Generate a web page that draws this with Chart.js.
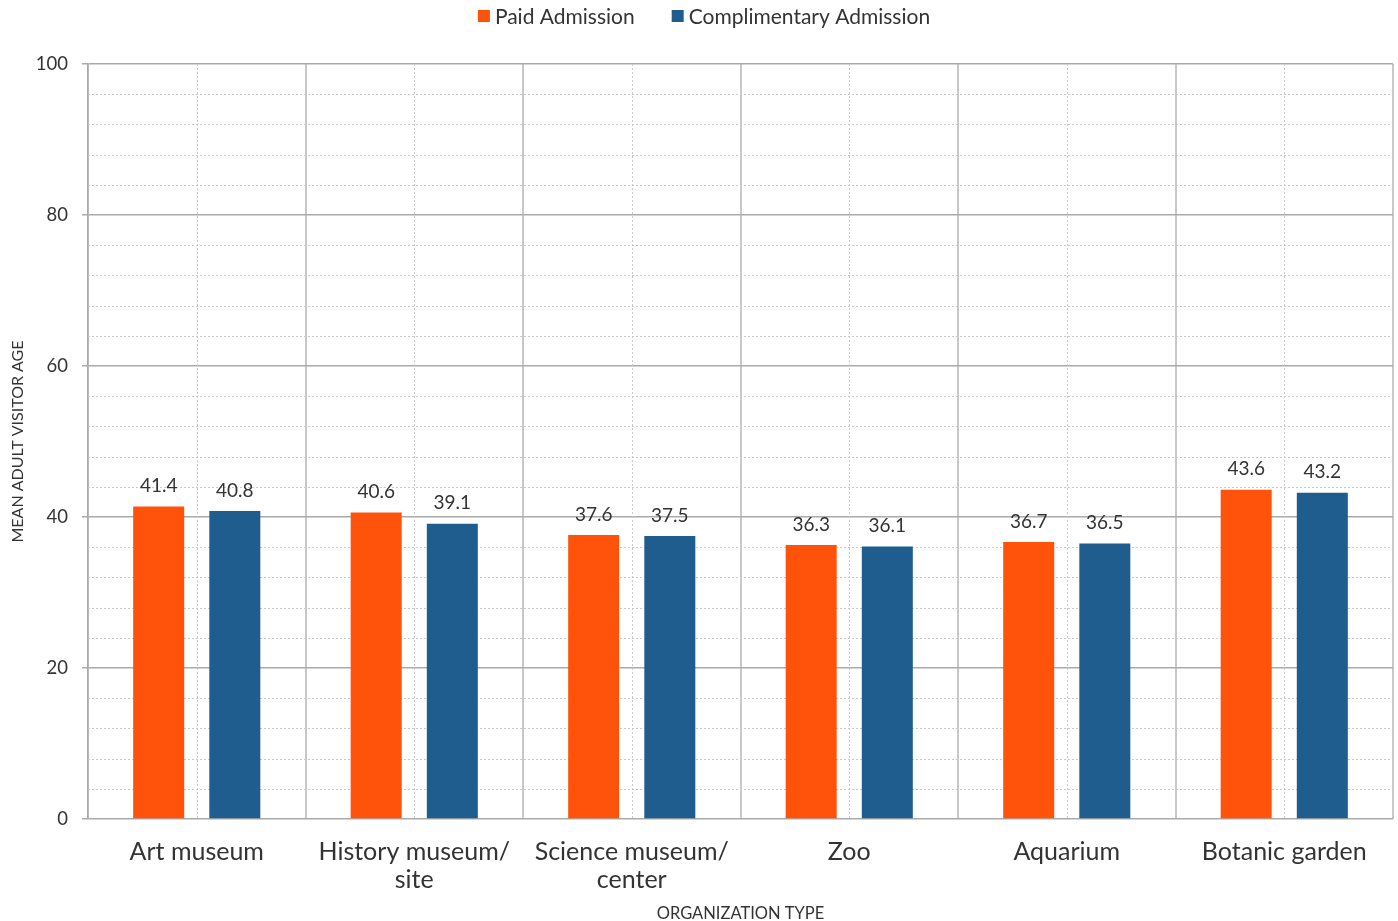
<!DOCTYPE html>
<html>
<head>
<meta charset="utf-8">
<script src="https://cdn.jsdelivr.net/npm/chart.js@4/dist/chart.umd.min.js"></script>
<style>
  html, body { margin: 0; padding: 0; background: #ffffff; }
  #wrap { width: 1398px; height: 921px; }
</style>
</head>
<body>
<div id="wrap"><canvas id="c" width="1398" height="921"></canvas></div>
<script>
// Mean adult visitor age by organization type
const categories = [
  ["Art museum"],
  ["History museum/", "site"],
  ["Science museum/", "center"],
  ["Zoo"],
  ["Aquarium"],
  ["Botanic garden"]
];
const paidAdmission = [41.4, 40.6, 37.6, 36.3, 36.7, 43.6];
const complimentaryAdmission = [40.8, 39.1, 37.5, 36.1, 36.5, 43.2];
const yTickValues = [0, 20, 40, 60, 80, 100];
const minorStep = 4;

const FONT = "Lato, 'Open Sans', sans-serif";
const TEXT = "#333333";

// dotted minor grid: horizontal every minorStep, vertical through each category centre
const minorGrid = {
  id: "minorGrid",
  beforeDatasetsDraw(chart) {
    const { ctx, chartArea: a, scales: { x, y } } = chart;
    ctx.save();
    ctx.strokeStyle = "#c9c9c9";
    ctx.lineWidth = 1;
    ctx.setLineDash([2, 2]);
    for (let v = y.min; v <= y.max; v += minorStep) {
      if (yTickValues.includes(v)) continue;
      const py = Math.round(y.getPixelForValue(v)) + 0.5;
      ctx.beginPath(); ctx.moveTo(a.left, py); ctx.lineTo(a.right, py); ctx.stroke();
    }
    categories.forEach((_, i) => {
      const px = Math.round(x.getPixelForValue(i)) + 0.5;
      ctx.beginPath(); ctx.moveTo(px, a.top); ctx.lineTo(px, a.bottom); ctx.stroke();
    });
    ctx.restore();
  }
};

// value printed above each bar
const barValues = {
  id: "barValues",
  afterDatasetsDraw(chart) {
    const { ctx } = chart;
    ctx.save();
    ctx.font = "19px " + FONT;
    ctx.fillStyle = TEXT;
    ctx.textAlign = "center";
    ctx.textBaseline = "bottom";
    chart.data.datasets.forEach((ds, di) => {
      chart.getDatasetMeta(di).data.forEach((bar, i) => {
        ctx.fillText(ds.data[i].toFixed(1), bar.x, bar.y - 11);
      });
    });
    ctx.restore();
  }
};

// compact legend row across the top, square swatch + dataset label
const topLegend = {
  id: "topLegend",
  afterDraw(chart) {
    const { ctx } = chart;
    const box = 12, boxGap = 5, itemGap = 37, centreX = 704, midY = 16;
    ctx.save();
    ctx.font = "21px " + FONT;
    ctx.textBaseline = "middle";
    ctx.textAlign = "left";
    const items = chart.data.datasets.map(ds => ({
      text: ds.label, color: ds.backgroundColor, w: ctx.measureText(ds.label).width
    }));
    const total = items.reduce((s, it) => s + box + boxGap + it.w, 0) + itemGap * (items.length - 1);
    let x = centreX - total / 2;
    items.forEach(it => {
      ctx.fillStyle = it.color;
      ctx.fillRect(x, midY - box / 2, box, box);
      ctx.fillStyle = TEXT;
      ctx.fillText(it.text, x + box + boxGap, midY + 1);
      x += box + boxGap + it.w + itemGap;
    });
    ctx.restore();
  }
};

new Chart(document.getElementById("c"), {
  type: "bar",
  data: {
    labels: categories,
    datasets: [
      { label: "Paid Admission", data: paidAdmission, backgroundColor: "#ff520a" },
      { label: "Complimentary Admission", data: complimentaryAdmission, backgroundColor: "#1e5d8e" }
    ]
  },
  options: {
    responsive: false,
    animation: false,
    devicePixelRatio: 1,
    layout: { padding: { left: 0, right: 5, top: 64, bottom: 0 } },
    datasets: { bar: { categoryPercentage: 0.7, barPercentage: 0.67 } },
    plugins: {
      tooltip: { enabled: false },
      legend: { display: false }
    },
    scales: {
      x: {
        grid: { color: "#c8c8c8", lineWidth: 2, drawTicks: false, offset: true },
        border: { display: false },
        ticks: { font: { family: FONT, size: 25, lineHeight: 1.12 }, color: TEXT, padding: 19, maxRotation: 0, autoSkip: false },
        title: { display: true, text: "ORGANIZATION TYPE", font: { family: FONT, size: 16.5 }, color: TEXT, padding: { top: 0, bottom: -3 } },
        afterFit(scale) { scale.height = 102; }
      },
      y: {
        min: 0,
        max: 100,
        afterBuildTicks(scale) { scale.ticks = yTickValues.map(v => ({ value: v })); },
        grid: { color: "#aaaaaa", lineWidth: 1.5, tickLength: 6 },
        border: { color: "#aaaaaa", width: 1.5 },
        ticks: { font: { family: FONT, size: 18.5 }, color: TEXT, padding: 14 },
        title: { display: true, text: "MEAN ADULT VISITOR AGE", font: { family: FONT, size: 16 }, color: TEXT, padding: { top: 8, bottom: 0 } },
        afterFit(scale) { scale.width = 88; }
      }
    }
  },
  plugins: [minorGrid, barValues, topLegend]
});
</script>
</body>
</html>
